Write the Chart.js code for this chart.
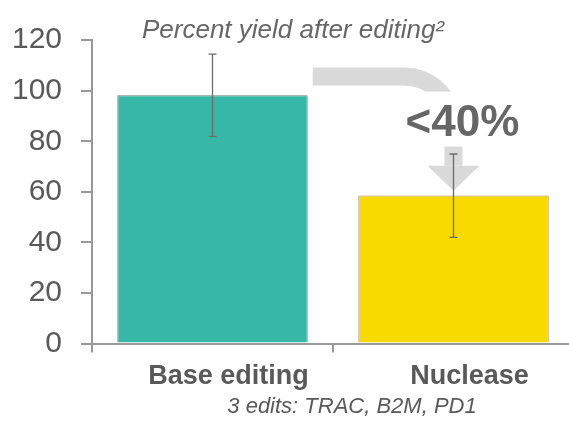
<!DOCTYPE html>
<html>
<head>
<meta charset="utf-8">
<script src="https://cdn.jsdelivr.net/npm/chart.js@4.4.1/dist/chart.umd.min.js"></script>
<style>
  html, body { margin: 0; padding: 0; background: #fff; overflow: hidden; }
  #wrap { width: 574px; height: 432px; position: relative; }
</style>
</head>
<body>
<div id="wrap"><canvas id="chart"></canvas></div>
<script>
// data
var categories = ['Base editing', 'Nuclease'];
var yieldValues = [98.2, 58.6];
var errLow = [82, 42];
var errHigh = [114.5, 75];
var yTicks = [0, 20, 40, 60, 80, 100, 120];
var barColors = ['#37b7a5', '#f8d900'];
var barBorders = ['#6f7f7a', '#9c9068'];
var calloutText = '<40%';
var footnote = '3 edits: TRAC, B2M, PD1';

// grey curved arrow + "<40%" callout, positioned from the scales
var arrowPlugin = {
  id: 'arrowPlugin',
  beforeDatasetsDraw: function (chart) {
    var ctx = chart.ctx;
    var meta = chart.getDatasetMeta(0);
    var y = chart.scales.y;
    var b0 = meta.data[0], b1 = meta.data[1];
    var x0 = b0.x + b0.width / 2 + 5;
    var xc = b1.x;
    var yBand = y.getPixelForValue(105.6);
    var R = 50;
    var stemEnd = y.getPixelForValue(70.3);
    var tip = y.getPixelForValue(60.5);
    ctx.save();
    ctx.strokeStyle = '#d9d9d9';
    ctx.fillStyle = '#d9d9d9';
    ctx.lineWidth = 18;
    ctx.lineCap = 'butt';
    ctx.beginPath();
    ctx.moveTo(x0, yBand);
    ctx.lineTo(xc - R, yBand);
    ctx.arc(xc - R, yBand + R, R, -Math.PI / 2, 0);
    ctx.lineTo(xc, stemEnd);
    ctx.stroke();
    ctx.beginPath();
    ctx.moveTo(xc - 26, stemEnd);
    ctx.lineTo(xc + 26, stemEnd);
    ctx.lineTo(xc, tip);
    ctx.closePath();
    ctx.fill();
    // knockout behind the callout text
    ctx.fillStyle = '#ffffff';
    ctx.fillRect(xc - 60, yBand + 15, 125, 55);
    ctx.fillStyle = '#666666';
    ctx.font = 'bold 44px "Liberation Sans", Arial, sans-serif';
    ctx.textAlign = 'center';
    ctx.textBaseline = 'alphabetic';
    ctx.fillText(calloutText, xc + 9, yBand + 59);
    ctx.restore();
  }
};

// error bars
var errorBarPlugin = {
  id: 'errorBarPlugin',
  afterDatasetsDraw: function (chart) {
    var ctx = chart.ctx;
    var meta = chart.getDatasetMeta(0);
    var y = chart.scales.y;
    ctx.save();
    ctx.strokeStyle = '#6b6b6b';
    ctx.lineWidth = 1.3;
    meta.data.forEach(function (bar, i) {
      var yl = y.getPixelForValue(errLow[i]);
      var yh = y.getPixelForValue(errHigh[i]);
      ctx.beginPath();
      ctx.moveTo(bar.x, yl);
      ctx.lineTo(bar.x, yh);
      ctx.moveTo(bar.x - 4, yl);
      ctx.lineTo(bar.x + 4, yl);
      ctx.moveTo(bar.x - 4, yh);
      ctx.lineTo(bar.x + 4, yh);
      ctx.stroke();
    });
    ctx.restore();
  }
};

// footnote under the category labels
var footnotePlugin = {
  id: 'footnotePlugin',
  afterDraw: function (chart) {
    var ctx = chart.ctx;
    var area = chart.chartArea;
    ctx.save();
    ctx.fillStyle = '#595959';
    ctx.font = 'italic 22px "Liberation Sans", Arial, sans-serif';
    ctx.textAlign = 'center';
    ctx.textBaseline = 'alphabetic';
    ctx.fillText(footnote, (area.left + area.right) / 2 + 19, 413);
    ctx.restore();
  }
};

var ctx = document.getElementById('chart').getContext('2d');
new Chart(ctx, {
  type: 'bar',
  data: {
    labels: categories,
    datasets: [{
      data: yieldValues,
      backgroundColor: barColors,
      borderColor: barBorders,
      borderWidth: 1,
      barPercentage: 0.79,
      categoryPercentage: 1
    }]
  },
  options: {
    responsive: true,
    maintainAspectRatio: false,
    animation: false,
    layout: { padding: { left: 12, right: 0, top: 0, bottom: 31 } },
    plugins: {
      legend: { display: false },
      tooltip: { enabled: false },
      title: {
        display: true,
        text: 'Percent yield after editing\u00b2',
        color: '#666666',
        font: { family: '"Liberation Sans", Arial, sans-serif', size: 26, style: 'italic', weight: 'normal' },
        padding: { top: 15, bottom: -6 }
      }
    },
    scales: {
      x: {
        offset: true,
        border: { display: true, color: '#999999', width: 2 },
        grid: { display: true, offset: true, drawOnChartArea: false, drawTicks: true, tickLength: 9, color: '#999999', lineWidth: 2 },
        ticks: {
          color: '#595959',
          padding: 8,
          labelOffset: 16,
          font: { family: '"Liberation Sans", Arial, sans-serif', size: 27, weight: 'bold' }
        }
      },
      y: {
        min: 0,
        max: 120,
        afterBuildTicks: function (axis) {
          axis.ticks = yTicks.map(function (v) { return { value: v }; });
        },
        afterFit: function (axis) { axis.width = 80; },
        border: { display: true, color: '#999999', width: 2 },
        grid: { display: true, drawOnChartArea: false, drawTicks: true, tickLength: 11, color: '#999999', lineWidth: 2 },
        ticks: {
          color: '#595959',
          padding: 19,
          font: { family: '"Liberation Sans", Arial, sans-serif', size: 30 }
        }
      }
    }
  },
  plugins: [arrowPlugin, errorBarPlugin, footnotePlugin]
});
</script>
</body>
</html>
